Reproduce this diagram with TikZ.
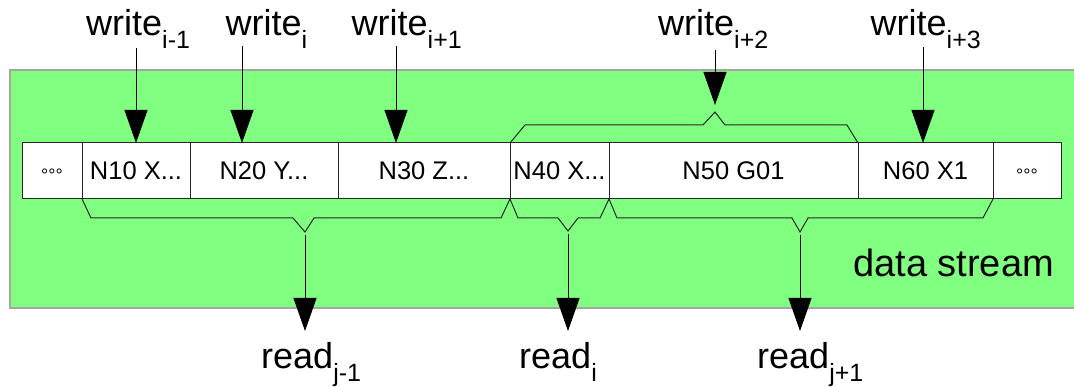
\documentclass[tikz,border=0pt]{standalone}
\usepackage{fontspec}
\setmainfont{Liberation Sans}
\usetikzlibrary{arrows.meta,calc}
\definecolor{streamgreen}{RGB}{128,255,128}
\definecolor{edgegray}{RGB}{165,165,165}
\newcommand{\lowsub}[1]{\raisebox{-13pt}{\fontsize{25}{25}\selectfont #1}}
\begin{document}
\begin{tikzpicture}[x=1pt,y=-1pt,
  cell/.style={draw=black!85, fill=white, line width=1pt, minimum height=56pt,
    inner sep=0pt, outer sep=0pt, anchor=north west, font=\fontsize{25.5}{30}\selectfont},
  lbl/.style={inner sep=0pt, anchor=base west, font=\fontsize{36}{42}\selectfont},
  streamlbl/.style={inner sep=0pt, anchor=base west, font=\fontsize{38}{44}\selectfont},
  bigarrow/.style={-{Triangle[length=33pt,width=23pt]}, line width=1pt, draw=black},
  bracepath/.style={line width=1pt, draw=black!85, line join=miter}
]
\useasboundingbox (0,0) rectangle (1074,387);
% data stream background
\fill[streamgreen] (10,70) rectangle (1074,308);
\draw[edgegray, line width=1.5pt] (1074,70) -- (10,70) -- (10,308) -- (1074,308);
\node[streamlbl] (ds) at (853,277) {data stream};

% cells
\node[cell, minimum width=60pt]  (c0) at (22,143)  {\fontsize{18}{18}\selectfont\raisebox{-0.6em}[0pt][0pt]{°°°}};
\node[cell, minimum width=108pt] (c1) at (82,143)  {N10 X...};
\node[cell, minimum width=148pt] (c2) at (190,143) {N20 Y...};
\node[cell, minimum width=172pt] (c3) at (338,143) {N30 Z...};
\node[cell, minimum width=99pt]  (c4) at (510,143) {N40 X...};
\node[cell, minimum width=249pt] (c5) at (609,143) {N50 G01};
\node[cell, minimum width=135pt] (c6) at (858,143) {N60 X1};
\node[cell, minimum width=68pt]  (c7) at (993,143) {\fontsize{18}{18}\selectfont\raisebox{-0.6em}[0pt][0pt]{°°°}};

% top brace over N40 and N50
\draw[bracepath] (c4.north west) -- (525,125) -- (703,125) -- (715,112) coordinate (tb) -- (725,125) -- (847,125) -- (c5.north east);

% bottom braces
\draw[bracepath] (c1.south west) -- (91,218) -- (293,218) -- (305,232) coordinate (bA) -- (314,218) -- (501,218) -- (c3.south east);
\draw[bracepath] (c4.south west) -- (518,218) -- (558,218) -- (568,231) coordinate (bB) -- (578,218) -- (600,218) -- (c4.south east);
\draw[bracepath] (c5.south west) -- (617,218) -- (792,218) -- (800,232) coordinate (bC) -- (808,218) -- (983,218) -- (c6.south east);

% write labels
\node[lbl] (w1) at (86,36)    {write\lowsub{i-1}};
\node[lbl] (w2) at (225.5,36) {write\lowsub{i}};
\node[lbl] (w3) at (351.5,36) {write\lowsub{i+1}};
\node[lbl] (w4) at (658,36)   {write\lowsub{i+2}};
\node[lbl] (w5) at (870.5,36) {write\lowsub{i+3}};

\coordinate (s1) at (136,48);
\coordinate (s2) at (242,46);
\coordinate (s3) at (396,46);
\coordinate (s4) at (715,50);
\coordinate (s5) at (923,47);
\draw[bigarrow] (s1) -- (s1 |- c1.north);
\draw[bigarrow] (s2) -- (s2 |- c2.north);
\draw[bigarrow] (s3) -- (s3 |- c3.north);
\draw[bigarrow] (s4) -- ($(tb)+(0,-7)$);
\draw[bigarrow] (s5) -- (s5 |- c6.north);

% read labels
\node[lbl] (r1) at (261,369) {read\lowsub{j-1}};
\node[lbl] (r2) at (519,369) {read\lowsub{i}};
\node[lbl] (r3) at (757,369) {read\lowsub{j+1}};

\draw[bigarrow] ($(bA)+(0,3)$) -- ($(bA)+(0,99)$);
\draw[bigarrow] ($(bB)+(0,3)$) -- ($(bB)+(0,100)$);
\draw[bigarrow] ($(bC)+(0,3)$) -- ($(bC)+(0,99)$);
\end{tikzpicture}
\end{document}
